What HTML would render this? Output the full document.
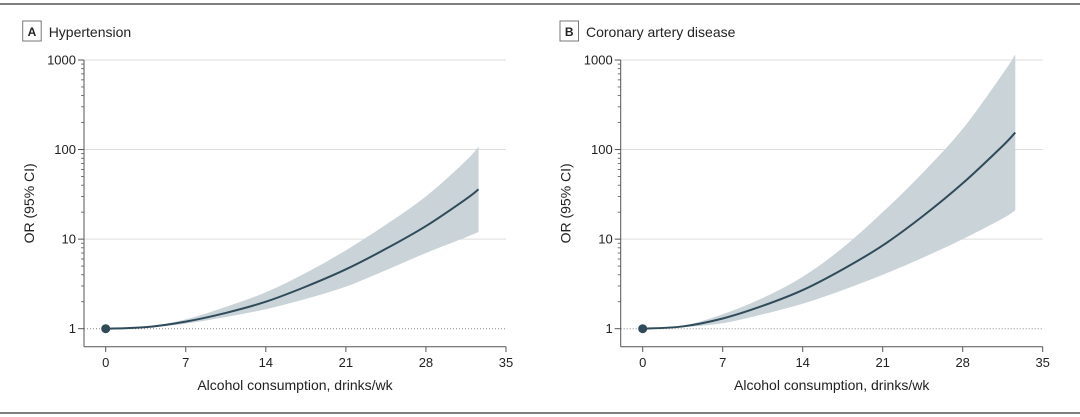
<!DOCTYPE html>
<html><head><meta charset="utf-8"><style>
html,body{margin:0;padding:0;background:#fff;}
svg{display:block;font-family:"Liberation Sans Narrow","Liberation Sans",sans-serif;}
</style></head><body>
<svg id="chart" width="1080" height="417" viewBox="0 0 1080 417">
<line x1="0" y1="4" x2="1080" y2="4" stroke="#555" stroke-width="1.5"/>
<line x1="0" y1="413" x2="1080" y2="413" stroke="#555" stroke-width="1.5"/>
</svg>
<script>
const xs = [0,3.5,7,10.5,14,17.5,21,24.5,28,31.5,32.6];
const xTicks = [0,7,14,21,28,35];
const yTicks = [1,10,100,1000];
const titles = ["Hypertension","Coronary artery disease"];
const letters = ["A","B"];
const meanA = [1,1.04,1.2,1.5,2.0,2.95,4.6,7.8,14,28,36];
const upperA = [1,1.05,1.27,1.75,2.55,4.2,7.5,14.5,30,75,108];
const lowerA = [1,1.03,1.14,1.35,1.65,2.15,2.95,4.5,7,10.5,12];
const meanB = [1,1.06,1.3,1.8,2.7,4.6,8.5,18,42,110,155];
const upperB = [1,1.08,1.45,2.2,3.8,8,20,55,170,700,1150];
const lowerB = [1,1.04,1.15,1.45,1.9,2.7,4,6.2,10,17,21];
const series = [[meanA,upperA,lowerA],[meanB,upperB,lowerB]];
const NS="http://www.w3.org/2000/svg";
const svg=document.getElementById('chart');
function mk(tag,attrs,parent){const e=document.createElementNS(NS,tag);for(const k in attrs)e.setAttribute(k,attrs[k]);(parent||svg).appendChild(e);return e;}
function smooth(pts){let d="M"+pts[0][0]+","+pts[0][1];for(let i=0;i<pts.length-1;i++){const p0=pts[Math.max(0,i-1)],p1=pts[i],p2=pts[i+1],p3=pts[Math.min(pts.length-1,i+2)];const c1=[p1[0]+(p2[0]-p0[0])/6,p1[1]+(p2[1]-p0[1])/6],c2=[p2[0]-(p3[0]-p1[0])/6,p2[1]-(p3[1]-p1[1])/6];d+=" C"+c1[0]+","+c1[1]+" "+c2[0]+","+c2[1]+" "+p2[0]+","+p2[1];}return d;}
const panels=[{spine:84,x0:105.7,x35:506,lbx:22.7},{spine:620.7,x0:642.7,x35:1042.7,lbx:560}];
panels.forEach((P,pi)=>{
  const g=mk('g',{});
  
  
  const xS=v=>P.x0+(v/35)*(P.x35-P.x0);
  const yS=v=>328.7-Math.log10(v)*89.57;
  const r=P.x35;
  const box=mk('rect',{x:P.lbx,y:21,width:18.5,height:20,fill:'#fff',stroke:'#777','stroke-width':1},g);
  
  const lt=mk('text',{x:P.lbx+9.25,y:36,'text-anchor':'middle','font-size':12,'font-weight':'bold',fill:'#222'},g);lt.textContent=letters[pi];
  
  const tt=mk('text',{x:P.lbx+26,y:37,'font-size':14,fill:'#222'},g);tt.textContent=titles[pi];
  
  [10,100,1000].forEach(v=>{const l=mk('line',{x1:P.spine,x2:r,y1:yS(v),y2:yS(v),stroke:'#ddd','stroke-width':1},g);});
  const ref=mk('line',{x1:P.spine,x2:r,y1:yS(1),y2:yS(1),stroke:'#888','stroke-width':1,'stroke-dasharray':'1,2'},g);
  
  const [mean,up,lo]=series[pi];
  const upPts=xs.map((x,i)=>[xS(x),yS(up[i])]);
  const loPts=xs.map((x,i)=>[xS(x),yS(lo[i])]).reverse();
  const ls=smooth(loPts);
  let d=smooth(upPts)+" L"+loPts[0][0]+","+loPts[0][1]+ls.slice(ls.indexOf(" C"))+" Z";
  const band=mk('path',{d:d,fill:'#c9d3d8',stroke:'none'},g);
  
  const line=mk('path',{d:smooth(xs.map((x,i)=>[xS(x),yS(mean[i])])),fill:'none',stroke:'#2f4b5a','stroke-width':2},g);
  
  const dot=mk('circle',{cx:xS(0),cy:yS(1),r:4.5,fill:'#2f4b5a'},g);
  
  const ya=mk('line',{x1:P.spine,x2:P.spine,y1:yS(1000),y2:346.7,stroke:'#555','stroke-width':1},g);
  
  const xa=mk('line',{x1:P.spine,x2:r,y1:346.7,y2:346.7,stroke:'#555','stroke-width':1},g);
  
  yTicks.forEach(v=>{
    const t=mk('line',{x1:P.spine-6,x2:P.spine,y1:yS(v),y2:yS(v),stroke:'#555'},g);
    const tx=mk('text',{x:P.spine-8,y:yS(v)+4.5,'text-anchor':'end','font-size':13,fill:'#222'},g);tx.textContent=v;
    
    if(v<1000)for(let k=2;k<10;k++){const m=mk('line',{x1:P.spine-3,x2:P.spine,y1:yS(v*k),y2:yS(v*k),stroke:'#555','stroke-width':0.8},g);}
  });
  xTicks.forEach(v=>{
    const t=mk('line',{x1:xS(v),x2:xS(v),y1:346.7,y2:352,stroke:'#555'},g);
    const tx=mk('text',{x:xS(v),y:367,'text-anchor':'middle','font-size':13,fill:'#222'},g);tx.textContent=v;
    
  });
  const xt=mk('text',{x:(P.spine+r)/2,y:390,'text-anchor':'middle','font-size':14,fill:'#222'},g);xt.textContent='Alcohol consumption, drinks/wk';
  
  const cy=(yS(1000)+346.7)/2;
  const yt=mk('text',{x:P.spine-50,y:cy,'text-anchor':'middle','font-size':14,fill:'#222',transform:'rotate(-90 '+(P.spine-50)+' '+cy+')'},g);yt.textContent='OR (95% CI)';
  
});
</script>
</body></html>
